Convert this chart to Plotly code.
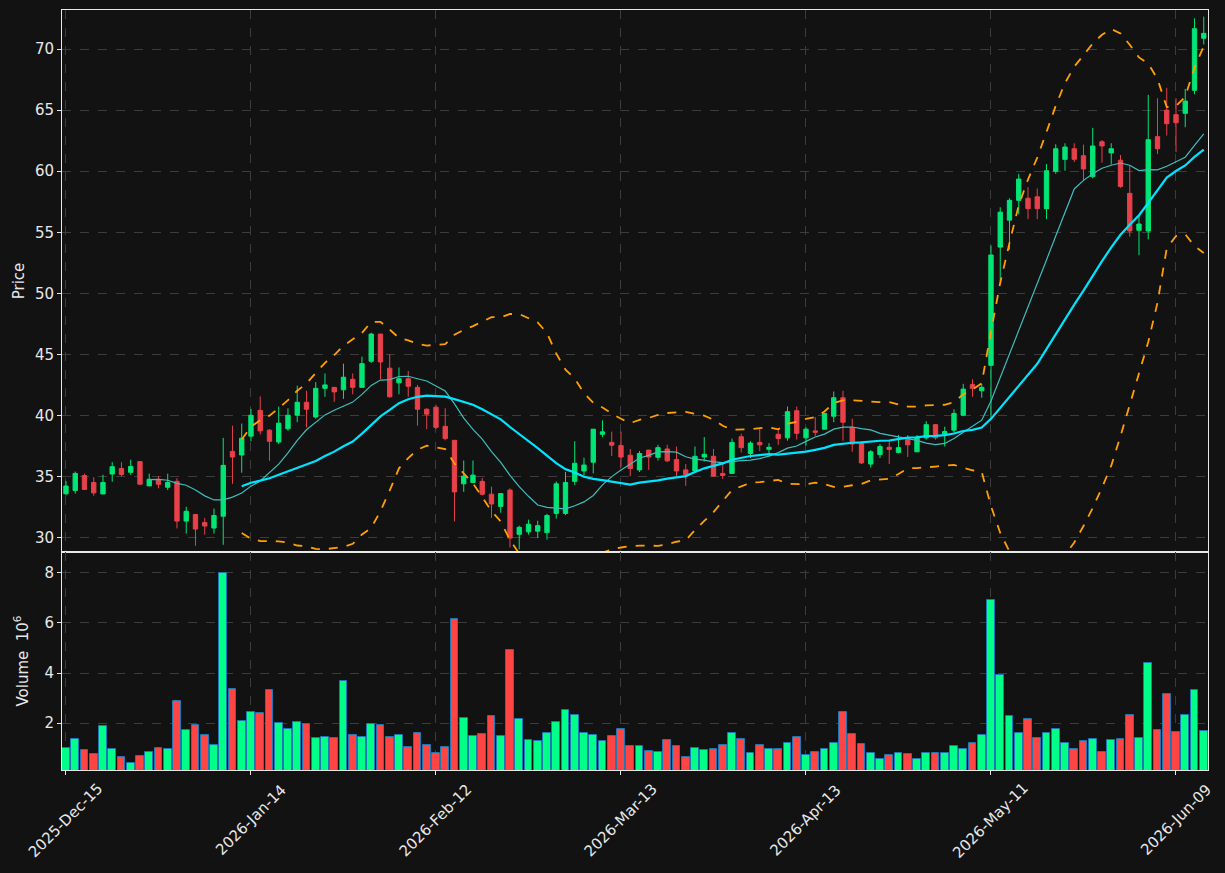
import pandas as pd
import plotly.graph_objects as go

# ---------------- data ----------------
holidays = ["2025-12-25", "2026-01-01", "2026-01-19", "2026-02-16", "2026-04-03", "2026-05-25"]
dates = [d for d in pd.bdate_range("2025-12-15", "2026-06-12") if d.strftime("%Y-%m-%d") not in holidays]

opens = [33.62, 33.89, 35.11, 34.54, 33.60, 35.23, 35.68, 35.37, 36.25, 34.26,
         34.80, 34.15, 34.63, 31.38, 31.92, 31.27, 30.81, 31.78, 37.08, 36.79,
         38.33, 40.44, 38.82, 37.85, 38.93, 40.04, 41.10, 39.90, 42.24, 42.32,
         42.12, 42.98, 42.32, 44.46, 46.68, 43.89, 42.69, 43.03, 42.32, 40.53,
         40.70, 39.13, 37.99, 34.43, 34.54, 34.63, 33.58, 32.58, 33.92, 30.30,
         30.50, 30.56, 30.44, 32.01, 32.01, 34.63, 35.48, 36.20, 38.48, 37.82,
         37.56, 36.77, 35.57, 37.19, 36.60, 37.28, 36.42, 35.57, 35.48, 36.62,
         36.68, 35.28, 35.28, 38.28, 36.91, 37.82, 37.25, 38.48, 38.19, 40.41,
         38.19, 38.76, 38.90, 39.96, 41.47, 39.05, 37.82, 36.05, 36.82, 37.42,
         37.00, 38.05, 37.05, 38.19, 39.27, 38.50, 38.82, 40.04, 42.55, 42.04,
         44.12, 53.80, 56.00, 57.62, 57.79, 57.91, 56.94, 59.99, 60.97, 61.84,
         61.27, 59.56, 62.41, 61.50, 60.90, 58.19, 55.17, 55.11, 62.83, 65.00,
         64.63, 64.74, 66.62, 70.88]
highs = [34.67, 35.43, 35.26, 34.97, 35.17, 36.20, 36.20, 36.40, 36.25, 35.26,
         35.06, 35.26, 34.89, 32.55, 31.98, 31.64, 32.41, 38.19, 39.19, 39.36,
         40.56, 41.58, 38.90, 40.75, 40.61, 42.46, 42.04, 42.75, 43.46, 42.32,
         44.26, 43.46, 44.83, 46.79, 46.68, 45.03, 43.95, 43.66, 42.52, 40.61,
         40.90, 40.61, 37.99, 36.34, 36.34, 34.91, 34.20, 33.63, 34.06, 31.01,
         31.50, 31.41, 31.98, 34.63, 35.40, 37.91, 36.57, 38.90, 39.62, 38.70,
         38.70, 37.28, 37.11, 37.19, 37.62, 37.62, 37.48, 36.05, 37.48, 38.25,
         37.28, 36.05, 38.13, 38.53, 37.91, 38.90, 37.76, 38.90, 40.75, 40.75,
         39.05, 39.90, 40.19, 41.98, 42.04, 39.76, 37.91, 37.19, 37.68, 37.96,
         38.42, 38.42, 38.42, 39.56, 39.33, 39.10, 40.53, 42.61, 42.98, 42.61,
         53.92, 57.05, 57.79, 59.79, 58.70, 58.59, 60.58, 62.21, 62.29, 62.29,
         62.18, 63.55, 62.55, 62.29, 61.33, 60.44, 56.37, 66.25, 65.97, 66.83,
         65.97, 66.74, 72.51, 72.65]
lows = [33.48, 33.63, 33.92, 33.46, 33.60, 34.60, 35.06, 35.17, 34.40, 34.26,
        34.06, 33.92, 30.78, 30.36, 29.36, 30.27, 30.36, 29.44, 34.43, 35.34,
        37.91, 38.48, 36.31, 37.68, 38.76, 39.47, 39.05, 39.76, 41.55, 41.13,
        41.38, 41.75, 42.32, 44.32, 42.98, 41.47, 41.75, 41.55, 39.19, 38.90,
        38.90, 37.99, 31.35, 33.77, 34.54, 33.49, 31.64, 32.07, 29.22, 29.07,
        30.27, 30.00, 29.87, 31.58, 31.87, 34.34, 35.11, 35.28, 38.25, 36.71,
        35.77, 35.06, 35.40, 35.57, 36.34, 36.20, 35.06, 34.26, 35.40, 36.25,
        35.00, 34.83, 35.28, 36.99, 36.54, 37.11, 36.71, 37.62, 37.96, 38.05,
        37.56, 38.33, 38.90, 39.47, 37.96, 37.05, 36.05, 35.77, 36.54, 36.05,
        36.91, 36.62, 37.05, 38.05, 38.05, 37.48, 38.62, 39.96, 41.55, 41.47,
        39.76, 51.01, 53.58, 56.48, 56.08, 56.08, 56.08, 59.79, 60.04, 60.75,
        59.27, 59.42, 60.70, 60.55, 58.65, 54.65, 53.13, 54.43, 61.41, 62.92,
        61.56, 63.60, 66.30, 70.37]
closes = [34.25, 35.28, 33.97, 33.69, 34.54, 35.83, 35.20, 35.85, 34.40, 34.80,
          34.40, 34.54, 31.38, 32.18, 30.73, 30.98, 31.84, 35.94, 36.62, 38.16,
          40.04, 38.76, 37.91, 39.39, 40.04, 41.10, 40.53, 42.24, 42.52, 41.95,
          43.15, 42.32, 44.26, 46.68, 44.40, 41.55, 43.03, 42.41, 40.53, 40.13,
          39.05, 38.13, 33.77, 35.06, 35.14, 33.58, 32.78, 33.63, 29.99, 30.87,
          31.13, 31.01, 31.84, 34.43, 34.54, 36.11, 35.97, 38.90, 38.68, 37.59,
          36.62, 35.68, 36.91, 36.62, 37.39, 36.31, 35.48, 35.20, 36.68, 36.85,
          35.06, 35.11, 37.82, 37.39, 37.76, 37.62, 37.42, 38.13, 40.33, 38.56,
          38.90, 38.65, 40.19, 41.47, 39.47, 37.68, 36.14, 37.05, 37.48, 37.25,
          37.39, 37.62, 38.25, 39.27, 38.19, 38.70, 40.19, 42.18, 42.24, 42.32,
          53.15, 56.65, 57.62, 59.36, 56.94, 56.94, 60.04, 61.84, 61.98, 60.98,
          60.19, 62.07, 62.07, 61.84, 58.76, 55.11, 55.68, 62.58, 61.84, 63.89,
          63.97, 65.74, 71.66, 71.28]
# volume in units of 10^6
volumes = [1.00, 1.36, 0.92, 0.76, 1.88, 0.96, 0.64, 0.40, 0.68, 0.85,
           1.00, 0.96, 2.88, 1.72, 1.93, 1.52, 1.12, 8.00, 3.36, 2.08,
           2.44, 2.40, 3.32, 2.00, 1.76, 2.04, 1.97, 1.40, 1.44, 1.40,
           3.68, 1.52, 1.44, 1.97, 1.92, 1.44, 1.52, 1.04, 1.60, 1.12,
           0.80, 1.04, 6.16, 2.20, 1.48, 1.56, 2.28, 1.48, 4.92, 2.16,
           1.32, 1.28, 1.60, 2.04, 2.52, 2.32, 1.60, 1.52, 1.28, 1.48,
           1.76, 1.07, 1.07, 0.88, 0.84, 1.32, 1.07, 0.64, 1.00, 0.92,
           0.96, 1.12, 1.60, 1.36, 0.80, 1.12, 0.96, 0.96, 1.20, 1.44,
           0.72, 0.84, 0.96, 1.20, 2.44, 1.56, 1.16, 0.80, 0.59, 0.72,
           0.80, 0.76, 0.56, 0.80, 0.80, 0.80, 1.08, 0.96, 1.20, 1.52,
           6.92, 3.92, 2.28, 1.60, 2.16, 1.40, 1.60, 1.76, 1.20, 0.96,
           1.28, 1.36, 0.84, 1.32, 1.36, 2.32, 1.40, 4.40, 1.72, 3.16,
           1.64, 2.32, 3.32, 1.68]

# ---------------- derived indicators ----------------
idx = list(range(len(dates)))
cs = pd.Series(closes)
ma10 = cs.rolling(10).mean()
ma20 = cs.rolling(20).mean()
sd20 = cs.rolling(20).std(ddof=0)
bb_up = ma20 + 2 * sd20
bb_lo = ma20 - 2 * sd20

tick_idx = idx[::20]
tick_txt = [dates[i].strftime("%Y-%b-%d") for i in tick_idx]

BG = "#121212"
UP, DOWN = "#00e676", "#e8414a"
VUP, VDOWN = "#00ff88", "#ff4444"
GRID = "#3c3c3c"
AXC = "#e8e8e8"
FONT = "DejaVu Sans"
FS = 15

fig = go.Figure()
fig.add_trace(go.Candlestick(
    x=idx, open=opens, high=highs, low=lows, close=closes,
    increasing=dict(line=dict(color=UP, width=1), fillcolor=UP),
    decreasing=dict(line=dict(color=DOWN, width=1), fillcolor=DOWN),
    whiskerwidth=0, xaxis="x", yaxis="y", showlegend=False, hoverinfo="skip"))
fig.add_trace(go.Scatter(x=idx, y=ma10, mode="lines", line=dict(color="#3fbdbd", width=1.2),
                         xaxis="x", yaxis="y", showlegend=False, hoverinfo="skip"))
fig.add_trace(go.Scatter(x=idx, y=ma20, mode="lines", line=dict(color="#00e5ff", width=2.2),
                         xaxis="x", yaxis="y", showlegend=False, hoverinfo="skip"))
for band in (bb_up, bb_lo):
    fig.add_trace(go.Scatter(x=idx, y=band, mode="lines",
                             line=dict(color="#ffa000", width=1.8, dash="dash"),
                             xaxis="x", yaxis="y", showlegend=False, hoverinfo="skip"))

vcolors = [VUP if c >= o else VDOWN for o, c in zip(opens, closes)]
fig.add_trace(go.Bar(x=idx, y=volumes, width=0.86,
                     marker=dict(color=vcolors, line=dict(color="#1f77b4", width=1)),
                     xaxis="x2", yaxis="y2", showlegend=False, hoverinfo="skip"))

xr = [-0.43, 123.46]
common_x = dict(range=xr, showgrid=True, gridcolor=GRID, griddash="dash", gridwidth=1,
                zeroline=False, showline=True, linecolor=AXC, linewidth=1, mirror=True,
                tickmode="array", tickvals=tick_idx, ticks="outside", tickcolor=AXC,
                ticklen=4, showticklabels=False, automargin=False,
                rangeslider=dict(visible=False))
common_y = dict(showgrid=True, gridcolor=GRID, griddash="dash", zeroline=False,
                showline=True, linecolor=AXC, mirror=True, ticks="outside", tickcolor=AXC,
                ticklen=4, automargin=False, tickfont=dict(color=AXC, size=FS, family=FONT))

# date labels, centred under their ticks and rotated 45 degrees
annotations = [dict(x=i, y=-0.066, xref="x2", yref="paper", text=t, showarrow=False,
                    textangle=-45, xanchor="center", yanchor="middle",
                    font=dict(color=AXC, size=FS, family=FONT))
               for i, t in zip(tick_idx, tick_txt)]

fig.update_layout(
    width=1225, height=873,
    paper_bgcolor=BG, plot_bgcolor=BG,
    margin=dict(l=62, r=17, t=10, b=103),
    font=dict(family=FONT, color=AXC, size=FS),
    boxgap=0.33,
    bargap=0,
    annotations=annotations,
    xaxis=dict(common_x, domain=[0, 1], anchor="y"),
    xaxis2=dict(common_x, domain=[0, 1], anchor="y2", matches="x"),
    yaxis=dict(common_y, domain=[0.2868, 1], range=[28.85, 73.19],
               tickvals=[30, 35, 40, 45, 50, 55, 60, 65, 70],
               title=dict(text="Price", font=dict(size=FS, color=AXC), standoff=6)),
    yaxis2=dict(common_y, domain=[0, 0.2868], range=[0.133, 8.83], tickvals=[2, 4, 6, 8],
                title=dict(text="Volume  10<sup>6</sup>", font=dict(size=FS, color=AXC), standoff=12)),
)

fig.write_html("out.html")
